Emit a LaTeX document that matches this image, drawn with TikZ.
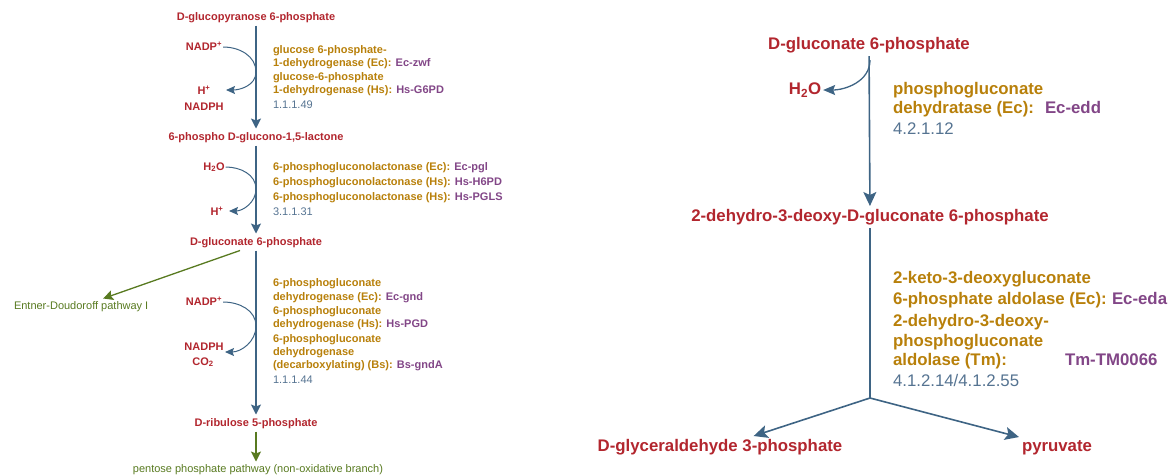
\documentclass[tikz,border=0pt]{standalone}
\usepackage{fontspec}
\setmainfont{Liberation Sans}
\usetikzlibrary{arrows.meta}

\definecolor{cpdred}{RGB}{178,38,46}
\definecolor{enzgold}{RGB}{184,128,10}
\definecolor{genepurple}{RGB}{130,70,135}
\definecolor{ecblue}{RGB}{85,115,145}
\definecolor{rxnblue}{RGB}{62,100,132}
\definecolor{pathgreen}{RGB}{88,122,32}

\tikzset{
  lbl/.style={inner sep=0pt, outer sep=0pt},
  % left panel (small)
  cpd/.style={lbl, font=\fontsize{11}{13}\selectfont\bfseries, text=cpdred, text height=8.5pt, text depth=2.5pt, outer sep=3pt},
  side/.style={lbl, font=\fontsize{11}{13}\selectfont\bfseries, text=cpdred, text height=8.5pt, text depth=2.5pt, outer sep=1pt},
  enz/.style={lbl, anchor=west, font=\fontsize{11}{13}\selectfont\bfseries, text=enzgold, text height=8.5pt, text depth=2.5pt},
  ec/.style={lbl, anchor=west, font=\fontsize{11}{13}\selectfont, text=ecblue, text height=8.5pt, text depth=2.5pt},
  path/.style={lbl, font=\fontsize{11}{13}\selectfont, text=pathgreen, text height=8.5pt, text depth=2.5pt, outer sep=2pt},
  rxn/.style={draw=rxnblue, line width=1.3pt, -{Stealth[length=10pt,width=10pt,inset=2pt]}},
  cof/.style={draw=rxnblue, line width=1pt, -{Stealth[length=9pt,width=8pt,inset=1.5pt]}},
  link/.style={draw=pathgreen, line width=1.3pt, -{Stealth[length=10pt,width=10pt,inset=2pt]}},
  % right panel (large)
  cpdR/.style={lbl, font=\fontsize{16.8}{20}\selectfont\bfseries, text=cpdred, text height=12.5pt, text depth=3.5pt, outer sep=3pt},
  sideR/.style={lbl, font=\fontsize{16.8}{20}\selectfont\bfseries, text=cpdred, text height=12.5pt, text depth=3.5pt, outer sep=2pt},
  enzR/.style={lbl, anchor=west, font=\fontsize{16.8}{20}\selectfont\bfseries, text=enzgold, text height=12.5pt, text depth=3.5pt},
  geneR/.style={enzR, text=genepurple},
  ecR/.style={lbl, anchor=west, font=\fontsize{16.8}{20}\selectfont, text=ecblue, text height=12.5pt, text depth=3.5pt},
  rxnR/.style={draw=rxnblue, line width=1.6pt, -{Stealth[length=14pt,width=13pt,inset=3pt]}},
  cofR/.style={draw=rxnblue, line width=1.3pt, -{Stealth[length=12pt,width=10pt,inset=2pt]}},
}
\newcommand{\gn}[1]{\textcolor{genepurple}{#1}}

\begin{document}
\begin{tikzpicture}[x=1pt, y=-1pt]
\useasboundingbox (0,0) rectangle (1174,475);

% ---- left: oxidative branch
\node[cpd] (c1) at (256,17) {D-glucopyranose 6-phosphate};
\node[cpd] (c2) at (256,137) {6-phospho D-glucono-1,5-lactone};
\node[cpd] (c3) at (256,242) {D-gluconate 6-phosphate};
\node[cpd] (c4) at (256,423) {D-ribulose 5-phosphate};
\node[path, anchor=west] (p1) at (12,306) {Entner-Doudoroff pathway I};
\node[path] (p2) at (258,469) {pentose phosphate pathway (non-oxidative branch)};

\node[side] (s1) at (204,47) {NADP\textsuperscript{+}};
\node[side] (s2) at (204,91) {H\textsuperscript{+}};
\node[side] (s3) at (204,107) {NADPH};
\node[side] (s4) at (214,167) {H\textsubscript{2}O};
\node[side] (s5) at (217,212) {H\textsuperscript{+}};
\node[side] (s6) at (204,302) {NADP\textsuperscript{+}};
\node[side] (s7) at (204,347) {NADPH};
\node[side] (s8) at (203,362) {CO\textsubscript{2}};

\coordinate (t1) at (256,72);
\coordinate (u1) at (226,90);
\coordinate (t2) at (256,189);
\coordinate (u2) at (229,211);
\coordinate (t3) at (256,326);
\coordinate (u3) at (225,352);

\node[enz] (e1) at (273,50) {glucose 6-phosphate-};
\node[enz] (e2) at (273,63) {1-dehydrogenase (Ec): \gn{Ec-zwf}};
\node[enz] (e3) at (273,77) {glucose-6-phosphate};
\node[enz] (e4) at (273,90) {1-dehydrogenase (Hs): \gn{Hs-G6PD}};
\node[ec] (n1) at (273,105) {1.1.1.49};

\node[enz] (e5) at (273,167) {6-phosphogluconolactonase (Ec): \gn{Ec-pgl}};
\node[enz] (e6) at (273,182) {6-phosphogluconolactonase (Hs): \gn{Hs-H6PD}};
\node[enz] (e7) at (273,197) {6-phosphogluconolactonase (Hs): \gn{Hs-PGLS}};
\node[ec] (n2) at (273,212) {3.1.1.31};

\node[enz] (e8) at (273,283) {6-phosphogluconate};
\node[enz] (e9) at (273,297) {dehydrogenase (Ec): \gn{Ec-gnd}};
\node[enz] (e10) at (273,311) {6-phosphogluconate};
\node[enz] (e11) at (273,324) {dehydrogenase (Hs): \gn{Hs-PGD}};
\node[enz] (e12) at (273,339) {6-phosphogluconate};
\node[enz] (e13) at (273,352) {dehydrogenase};
\node[enz] (e14) at (273,365) {(decarboxylating) (Bs): \gn{Bs-gndA}};
\node[ec] (n3) at (273,380) {1.1.1.44};

\draw[rxn] (c1) -- (c2);
\draw[rxn] (c2) -- (c3);
\draw[rxn] (c3) -- (c4);
\draw[link] ([xshift=-16pt]c3.south) -- ([xshift=22pt]p1.north);
\draw[link] (c4.south) -- (c4.south |- p2.north);

\draw[cof] (s1.east) to[out=0, in=90] (t1) to[out=-90, in=0] (u1);
\draw[cof] (s4.east) to[out=0, in=90] (t2) to[out=-90, in=0] (u2);
\draw[cof] (s6.east) to[out=0, in=90] (t3) to[out=-90, in=0] (u3);

% ---- right: Entner-Doudoroff
\node[cpdR] (d1) at (869,45) {D-gluconate 6-phosphate};
\node[cpdR] (d2) at (870,217) {2-dehydro-3-deoxy-D-gluconate 6-phosphate};
\node[cpdR] (d3) at (720,447) {D-glyceraldehyde 3-phosphate};
\node[cpdR] (d4) at (1057,447) {pyruvate};
\node[sideR] (r1) at (805,90) {H\textsubscript{2}O};

\coordinate (v1) at (870,60);
\coordinate (br) at (870,398);

\node[enzR] (f1) at (893,90) {phosphogluconate};
\node[enzR] (f2) at (893,109) {dehydratase (Ec):};
\node[geneR] (g1) at (1045,109) {Ec-edd};
\node[ecR] (m1) at (893,130) {4.2.1.12};

\node[enzR] (f3) at (893,279) {2-keto-3-deoxygluconate};
\node[enzR] (f4) at (893,300) {6-phosphate aldolase (Ec):};
\node[geneR] (g2) at (1112,300) {Ec-eda};
\node[enzR] (f5) at (893,322) {2-dehydro-3-deoxy-};
\node[enzR] (f6) at (893,342) {phosphogluconate};
\node[enzR] (f7) at (893,361) {aldolase (Tm):};
\node[geneR] (g3) at (1065,361) {Tm-TM0066};
\node[ecR] (m2) at (893,382) {4.1.2.14/4.1.2.55};

\draw[rxnR] (d1) -- (d2);
\draw[rxnR, -] (d2) -- (br);
\draw[rxnR] (br) -- (d3);
\draw[rxnR] (br) -- (d4);
\draw[cofR] (v1) to[out=-90, in=0] (r1.east);
\end{tikzpicture}
\end{document}
